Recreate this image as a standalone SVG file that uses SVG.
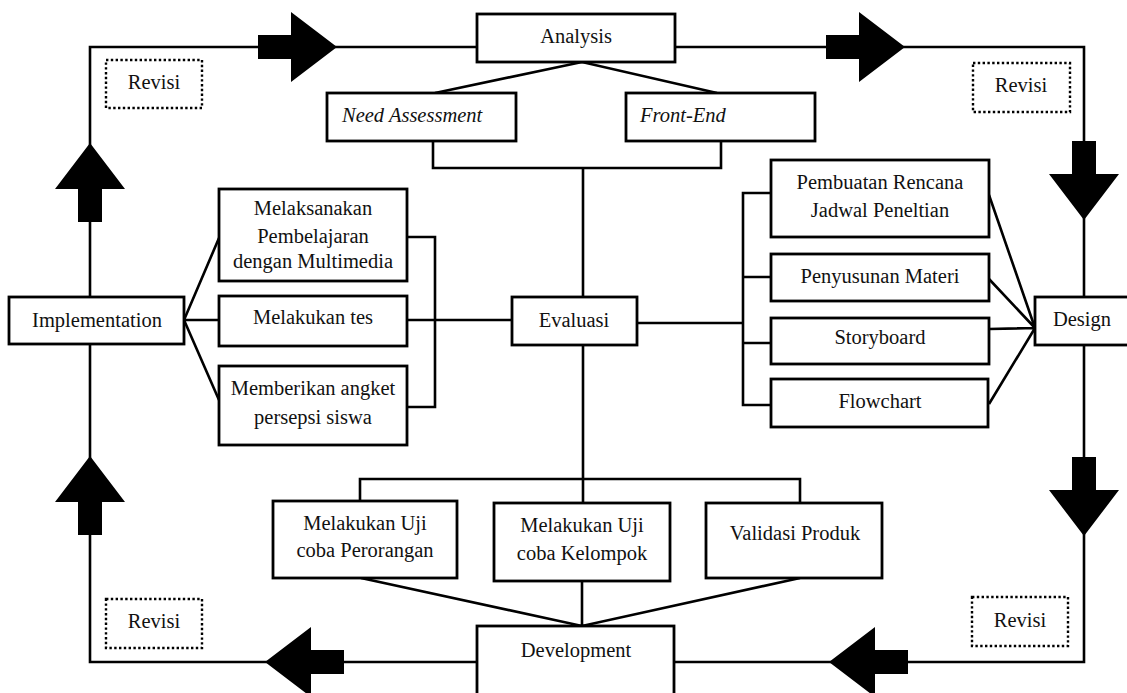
<svg xmlns="http://www.w3.org/2000/svg" xmlns:xlink="http://www.w3.org/1999/xlink" width="1127" height="693" viewBox="0 0 1127 693">
<style>
  .box { fill: #fff; stroke: #000; stroke-width: 2.8; }
  .rev { fill: none; stroke: #000; stroke-width: 2.4; stroke-dasharray: 2.4 2.4; }
  .ln { fill: none; stroke: #000; stroke-width: 2.6; stroke-linejoin: miter; }
  text { font-family: "Liberation Serif", "Times New Roman", serif; font-size: 20.5px; fill: #111; text-anchor: middle; }
  .it { font-style: italic; text-anchor: start; }
</style>
<defs>
  <polygon id="arr" points="-79,-12 -46,-12 -46,-35 0,0 -46,35 -46,12 -79,12" fill="#000"/>
</defs>
<rect width="1127" height="693" fill="#fff"/>

<g id="connectors">
  <path class="ln" d="M477 662 H90 V344 M90 297 V47 H477"/>
  <path class="ln" d="M675 47 H1084 V297 M1084 345 V662 H674"/>
  <path class="ln" d="M435 93 L582 62 L717 93"/>
  <path class="ln" d="M433 141 V168 H721 V141 M583 168 V297"/>
  <path class="ln" d="M583 345 V503 M360 501 V479 H800 V503"/>
  <path class="ln" d="M361 578 L582 626 L800 578 M582 581 V626"/>
  <path class="ln" d="M184 320 L219 238 M184 320 H219 M184 320 L219 400"/>
  <path class="ln" d="M407 237 H435 V407 H407 M407 320 H512"/>
  <path class="ln" d="M637 323 H743 M771 193 H743 V405 H771 M743 277 H771 M743 343 H771"/>
  <path class="ln" d="M989 195 L1035 328 M989 279 L1035 328 M989 329 L1035 328 M989 404 L1035 328"/>
  <use xlink:href="#arr" href="#arr" transform="translate(337,47)"/>
  <use xlink:href="#arr" href="#arr" transform="translate(905,47)"/>
  <use xlink:href="#arr" href="#arr" transform="translate(1084,220) rotate(90)"/>
  <use xlink:href="#arr" href="#arr" transform="translate(1084,536) rotate(90)"/>
  <use xlink:href="#arr" href="#arr" transform="translate(829,662) rotate(180)"/>
  <use xlink:href="#arr" href="#arr" transform="translate(265,662) rotate(180)"/>
  <use xlink:href="#arr" href="#arr" transform="translate(90,456) rotate(-90)"/>
  <use xlink:href="#arr" href="#arr" transform="translate(90,143) rotate(-90)"/>
</g>

<g id="analysis"><rect class="box" x="477" y="14" width="198" height="48"/><text x="576" y="43">Analysis</text></g>
<g id="need"><rect class="box" x="327" y="93" width="189" height="48"/><text class="it" x="342" y="122">Need Assessment</text></g>
<g id="frontend"><rect class="box" x="626" y="93" width="189" height="48"/><text class="it" x="640" y="122">Front-End</text></g>

<g id="revisi-tl"><rect class="rev" x="106" y="60" width="96" height="48"/><text x="154" y="89">Revisi</text></g>
<g id="revisi-tr"><rect class="rev" x="973" y="63" width="97" height="49"/><text x="1021" y="92">Revisi</text></g>
<g id="revisi-bl"><rect class="rev" x="106" y="599" width="96" height="49"/><text x="154" y="628">Revisi</text></g>
<g id="revisi-br"><rect class="rev" x="972" y="597" width="96" height="49"/><text x="1020" y="627">Revisi</text></g>

<g id="implementation"><rect class="box" x="9" y="297" width="175" height="47"/><text x="97" y="327">Implementation</text></g>
<g id="melaksanakan"><rect class="box" x="219" y="189" width="188" height="92"/><text x="313" y="215">Melaksanakan</text><text x="313" y="243">Pembelajaran</text><text x="313" y="268">dengan Multimedia</text></g>
<g id="tes"><rect class="box" x="219" y="296" width="188" height="50"/><text x="313" y="324">Melakukan tes</text></g>
<g id="angket"><rect class="box" x="219" y="366" width="188" height="79"/><text x="313" y="395">Memberikan angket</text><text x="313" y="424">persepsi siswa</text></g>

<g id="evaluasi"><rect class="box" x="512" y="297" width="125" height="48"/><text x="574" y="327">Evaluasi</text></g>

<g id="pembuatan"><rect class="box" x="771" y="160" width="218" height="77"/><text x="880" y="189">Pembuatan Rencana</text><text x="880" y="217">Jadwal Peneltian</text></g>
<g id="penyusunan"><rect class="box" x="771" y="254" width="218" height="47"/><text x="880" y="283">Penyusunan Materi</text></g>
<g id="storyboard"><rect class="box" x="771" y="318" width="218" height="46"/><text x="880" y="344">Storyboard</text></g>
<g id="flowchart"><rect class="box" x="771" y="379" width="217" height="48"/><text x="880" y="408">Flowchart</text></g>
<g id="design"><rect class="box" x="1035" y="297" width="100" height="48"/><text x="1082" y="326">Design</text></g>

<g id="perorangan"><rect class="box" x="273" y="501" width="184" height="77"/><text x="365" y="530">Melakukan Uji</text><text x="365" y="557">coba Perorangan</text></g>
<g id="kelompok"><rect class="box" x="494" y="503" width="176" height="78"/><text x="582" y="532">Melakukan Uji</text><text x="582" y="560">coba Kelompok</text></g>
<g id="validasi"><rect class="box" x="706" y="503" width="176" height="75"/><text x="795" y="540">Validasi Produk</text></g>
<g id="development"><rect class="box" x="477" y="626" width="197" height="80"/><text x="576" y="657">Development</text></g>
</svg>
